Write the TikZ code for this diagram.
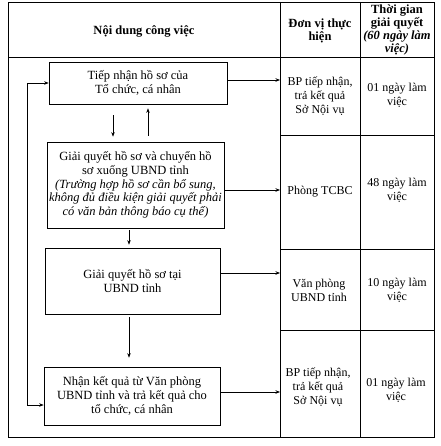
\documentclass[tikz,border=0pt]{standalone}
\usepackage{fontspec}
\setmainfont{Liberation Serif}
\usetikzlibrary{arrows.meta}
\begin{document}
\begin{tikzpicture}[x=1pt,y=-1pt,
  line width=0.6pt,
  every node/.style={font=\fontsize{12.5}{13.8}\selectfont, align=center, inner sep=0pt},
  cell/.style={font=\fontsize{12}{13.8}\selectfont},
  box/.style={draw, line width=0.7pt},
  arr/.style={-{Stealth[length=4.5pt,width=3.5pt]}},
  barr/.style={{Stealth[length=4.5pt,width=3.5pt]}-{Stealth[length=4.5pt,width=3.5pt]}},
  hd/.style={font=\fontsize{12.5}{13.2}\selectfont\bfseries}]
\useasboundingbox (0,0) rectangle (440,446);
% table frame
\draw (8,2) rectangle (434,437);
\draw (8,57) -- (434,57);
\coordinate (cL) at (280,0);
\draw (280,2) -- (280,437);
\draw (360,2) -- (360,437);
\draw (280,135) -- (434,135);
\draw (280,249) -- (434,249);
\draw (280,330) -- (434,330);
% headers
\node[hd] (h1) at (144,31) {Nội dung công việc};
\node[hd] (h2) at (320,31) {Đơn vị thực\\hiện};
\node[hd] (h3) at (397,30) {Thời gian\\giải quyết\\\itshape (60 ngày làm\\\itshape việc)};
% right cells
\node[cell] (u1) at (320,96) {BP tiếp nhận,\\trả kết quả\\Sở Nội vụ};
\node[cell] (t1) at (397,95) {01 ngày làm\\việc};
\node[cell] (u2) at (320,192) {Phòng TCBC};
\node[cell] (t2) at (397,190) {48 ngày làm\\việc};
\node[cell] (u3) at (319,290) {Văn phòng\\UBND tỉnh};
\node[cell] (t3) at (397,290) {10 ngày làm\\việc};
\node[cell] (u4) at (318,387) {BP tiếp nhận,\\trả kết quả\\Sở Nội vụ};
\node[cell] (t4) at (396,390) {01 ngày làm\\việc};
% boxes
\node[box, minimum width=178pt, minimum height=42pt] (b1) at (138,83) {Tiếp nhận hồ sơ của\\Tổ chức, cá nhân};
\node[box, minimum width=177pt, minimum height=86pt] (b2) at (135.5,185)
  {Giải quyết hồ sơ và chuyển hồ\\sơ xuống UBND tỉnh\\\itshape (Trường hợp hồ sơ cần bổ sung,\\\itshape không đủ điều kiện giải quyết phải\\\itshape có văn bản thông báo cụ thể)};
\node[box, minimum width=175pt, minimum height=66pt] (b3) at (132.5,281) {Giải quyết hồ sơ tại\\UBND tỉnh};
\node[box, minimum width=176pt, minimum height=58pt] (b4) at (132,396) {Nhận kết quả từ Văn phòng\\UBND tỉnh và trả kết quả cho\\tổ chức, cá nhân};
% vertical arrows
\draw[arr, shorten <=11pt, shorten >=5pt] ([xshift=-25pt]b1.south) -- ([xshift=-22.5pt]b2.north);
\draw[arr, shorten <=6pt, shorten >=4pt] ([xshift=12.5pt]b2.north) -- ([xshift=10pt]b1.south);
\draw[arr, shorten <=2pt, shorten >=3pt] ([xshift=-6.5pt]b2.south) -- ([xshift=-3.5pt]b3.north);
\draw[arr, shorten <=3pt, shorten >=9pt] ([xshift=-3.5pt]b3.south) -- ([xshift=-3pt]b4.north);
% right arrows
\draw[arr] ([yshift=3pt]b1.east) -- ([yshift=3pt]b1.east -| cL);
\draw[arr] ([yshift=-5pt]b2.east) -- ([yshift=-5pt]b2.east -| cL);
\draw[arr] ([yshift=8pt]b3.east) -- ([yshift=8pt]b3.east -| cL);
\draw[arr] ([yshift=4pt]b4.east) -- ([yshift=4pt]b4.east -| cL);
% loop
\draw[barr] (b1.west) -- ++(-21,0) |- ([yshift=-9pt]b4.west);
\end{tikzpicture}
\end{document}
